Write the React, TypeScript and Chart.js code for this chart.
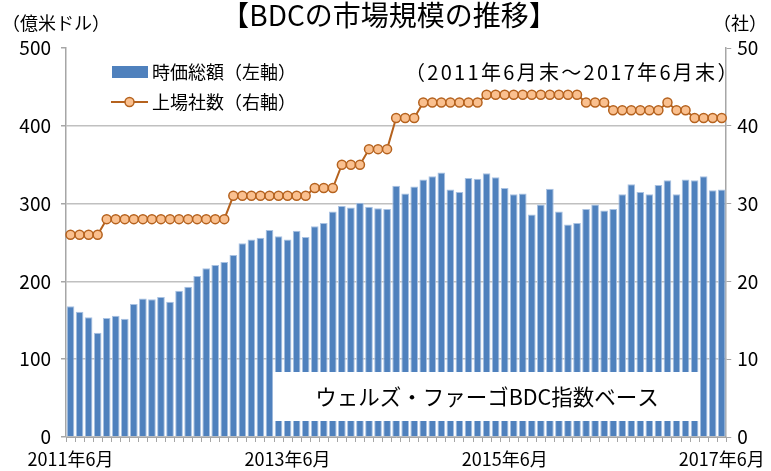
import React, { useEffect, useRef } from 'react';
import { Chart, registerables } from 'chart.js';

Chart.register(...registerables);

// ---- data ----
const START_YEAR = 2011;
const START_MONTH = 6;
const MONTH_COUNT = 73;
const months: string[] = [];
for (let i = 0; i < MONTH_COUNT; i++) {
  const m = START_MONTH - 1 + i;
  months.push(`${START_YEAR + Math.floor(m / 12)}年${(m % 12) + 1}月`);
}

const shownTickLabels = ['2011年6月', '2013年6月', '2015年6月', '2017年6月'];

// 時価総額（億米ドル）
const marketCap = [
  168, 161, 154, 134, 153, 156, 152, 171, 178, 177,
  180, 174, 188, 193, 207, 217, 221, 225, 234, 249,
  254, 256, 266, 258, 254, 265, 257, 271, 275, 290,
  297, 295, 301, 296, 294, 293, 323, 313, 322, 331,
  335, 340, 318, 315, 333, 332, 339, 334, 320, 312,
  313, 286, 299, 319, 290, 273, 275, 293, 299, 291,
  293, 312, 325, 315, 312, 324, 330, 312, 331, 330,
  335, 317, 318,
];

// 上場社数（社）
const listedCompanies = [
  26, 26, 26, 26, 28, 28, 28, 28, 28, 28,
  28, 28, 28, 28, 28, 28, 28, 28, 31, 31,
  31, 31, 31, 31, 31, 31, 31, 32, 32, 32,
  35, 35, 35, 37, 37, 37, 41, 41, 41, 43,
  43, 43, 43, 43, 43, 43, 44, 44, 44, 44,
  44, 44, 44, 44, 44, 44, 44, 43, 43, 43,
  42, 42, 42, 42, 42, 42, 43, 42, 42, 41,
  41, 41, 41,
];

const leftAxis = { min: 0, max: 500, step: 100 };
const rightAxis = { min: 0, max: 50, step: 10 };

const FONT = '"Noto Sans CJK JP", "Noto Sans", sans-serif';
const BAR_COLOR = '#4F81BD';
const LINE_COLOR = '#B5621E';
const POINT_FILL = '#FAC08F';
const AXIS_COLOR = '#A6A6A6';
const GRID_COLOR = '#C0C0C0';

const decorPlugin = {
  id: 'decor',
  afterDatasetsDraw(chart: any) {
    const ctx = chart.ctx as any;
    ctx.save();
    // note box
    ctx.fillStyle = '#FFFFFF';
    ctx.fillRect(273, 372, 427, 49);
    ctx.fillStyle = '#000000';
    ctx.font = `21.5px ${FONT}`;
    ctx.textAlign = 'center';
    ctx.textBaseline = 'middle';
    ctx.fillText('ウェルズ・ファーゴBDC指数ベース', 487, 397);

    // legend: bars
    ctx.fillStyle = BAR_COLOR;
    ctx.fillRect(112, 66, 36, 12);
    ctx.fillStyle = '#000000';
    ctx.font = `18px ${FONT}`;
    ctx.textAlign = 'left';
    ctx.fillText('時価総額（左軸）', 152, 72);

    // legend: line
    ctx.strokeStyle = LINE_COLOR;
    ctx.lineWidth = 2;
    ctx.beginPath();
    ctx.moveTo(111, 102);
    ctx.lineTo(148, 102);
    ctx.stroke();
    ctx.beginPath();
    ctx.arc(129.5, 102, 4.5, 0, Math.PI * 2);
    ctx.fillStyle = POINT_FILL;
    ctx.fill();
    ctx.lineWidth = 1.5;
    ctx.stroke();
    ctx.fillStyle = '#000000';
    ctx.fillText('上場社数（右軸）', 152, 102);

    // period note
    ctx.font = `20px ${FONT}`;
    ctx.letterSpacing = '2.3px';
    ctx.textAlign = 'left';
    ctx.fillText('（2011年6月末～2017年6月末）', 405, 72);
    ctx.restore();
  },
  afterDraw(chart: any) {
    const ctx = chart.ctx as any;
    ctx.save();
    ctx.fillStyle = '#000000';
    ctx.textBaseline = 'middle';
    ctx.font = `28px ${FONT}`;
    ctx.textAlign = 'center';
    ctx.fillText('【BDCの市場規模の推移】', 389, 15);
    ctx.font = `18px ${FONT}`;
    ctx.textAlign = 'left';
    ctx.fillText('（億米ドル）', 2, 23);
    ctx.textAlign = 'right';
    ctx.fillText('（社）', 767, 23);
    ctx.restore();
  },
};

export default function App() {
  const canvasRef = useRef<HTMLCanvasElement | null>(null);

  useEffect(() => {
    if (!canvasRef.current) return;
    const chart = new Chart(canvasRef.current, {
      type: 'bar',
      data: {
        labels: months,
        datasets: [
          {
            type: 'line',
            label: '上場社数（右軸）',
            data: listedCompanies,
            yAxisID: 'y1',
            borderColor: LINE_COLOR,
            borderWidth: 2,
            pointRadius: 4.5,
            pointBackgroundColor: POINT_FILL,
            pointBorderColor: LINE_COLOR,
            pointBorderWidth: 1.5,
            tension: 0,
            order: 1,
          } as any,
          {
            type: 'bar',
            label: '時価総額（左軸）',
            data: marketCap,
            yAxisID: 'y',
            backgroundColor: BAR_COLOR,
            borderColor: '#A9C2E2',
            borderWidth: { top: 1, left: 1, right: 1, bottom: 0 },
            borderSkipped: false,
            categoryPercentage: 1,
            barPercentage: 0.85,
            order: 2,
          } as any,
        ],
      },
      options: {
        responsive: false,
        animation: false,
        layout: { padding: { top: 48, left: 0, right: 0, bottom: 0 } },
        plugins: {
          legend: { display: false },
          title: { display: false },
          tooltip: { enabled: false },
        },
        scales: {
          x: {
            grid: {
              drawOnChartArea: false,
              drawTicks: true,
              tickLength: 5,
              color: AXIS_COLOR,
              offset: true,
            },
            border: { color: AXIS_COLOR, width: 1 },
            ticks: {
              autoSkip: false,
              maxRotation: 0,
              minRotation: 0,
              padding: 6,
              color: '#000',
              font: { family: FONT, size: 18 },
              callback: (_v: any, i: number) =>
                shownTickLabels.includes(months[i]) ? months[i] : '',
            },
            afterFit: (s: any) => { s.height = 34; },
          },
          y: {
            position: 'left',
            min: leftAxis.min,
            max: leftAxis.max,
            ticks: {
              stepSize: leftAxis.step,
              padding: 10,
              color: '#000',
              font: { family: FONT, size: 19 },
            },
            grid: {
              color: (c: any) => (c.tick && c.tick.value === leftAxis.max ? 'rgba(0,0,0,0)' : GRID_COLOR),
              tickColor: AXIS_COLOR,
              tickLength: 5,
              lineWidth: 1.5,
            },
            border: { color: AXIS_COLOR, width: 1.5 },
            afterFit: (s: any) => { s.width = 66; },
          },
          y1: {
            position: 'right',
            min: rightAxis.min,
            max: rightAxis.max,
            ticks: {
              stepSize: rightAxis.step,
              padding: 6,
              color: '#000',
              font: { family: FONT, size: 19 },
            },
            grid: {
              drawOnChartArea: false,
              tickColor: AXIS_COLOR,
              tickLength: 5,
            },
            border: { color: AXIS_COLOR, width: 1.5 },
            afterFit: (s: any) => { s.width = 44; },
          },
        },
      },
      plugins: [decorPlugin],
    });
    return () => chart.destroy();
  }, []);

  return (
    <div style={{ position: 'fixed', left: 0, top: 0, width: 771, height: 471, background: '#fff' }}>
      <canvas ref={canvasRef} width={771} height={471} />
    </div>
  );
}
